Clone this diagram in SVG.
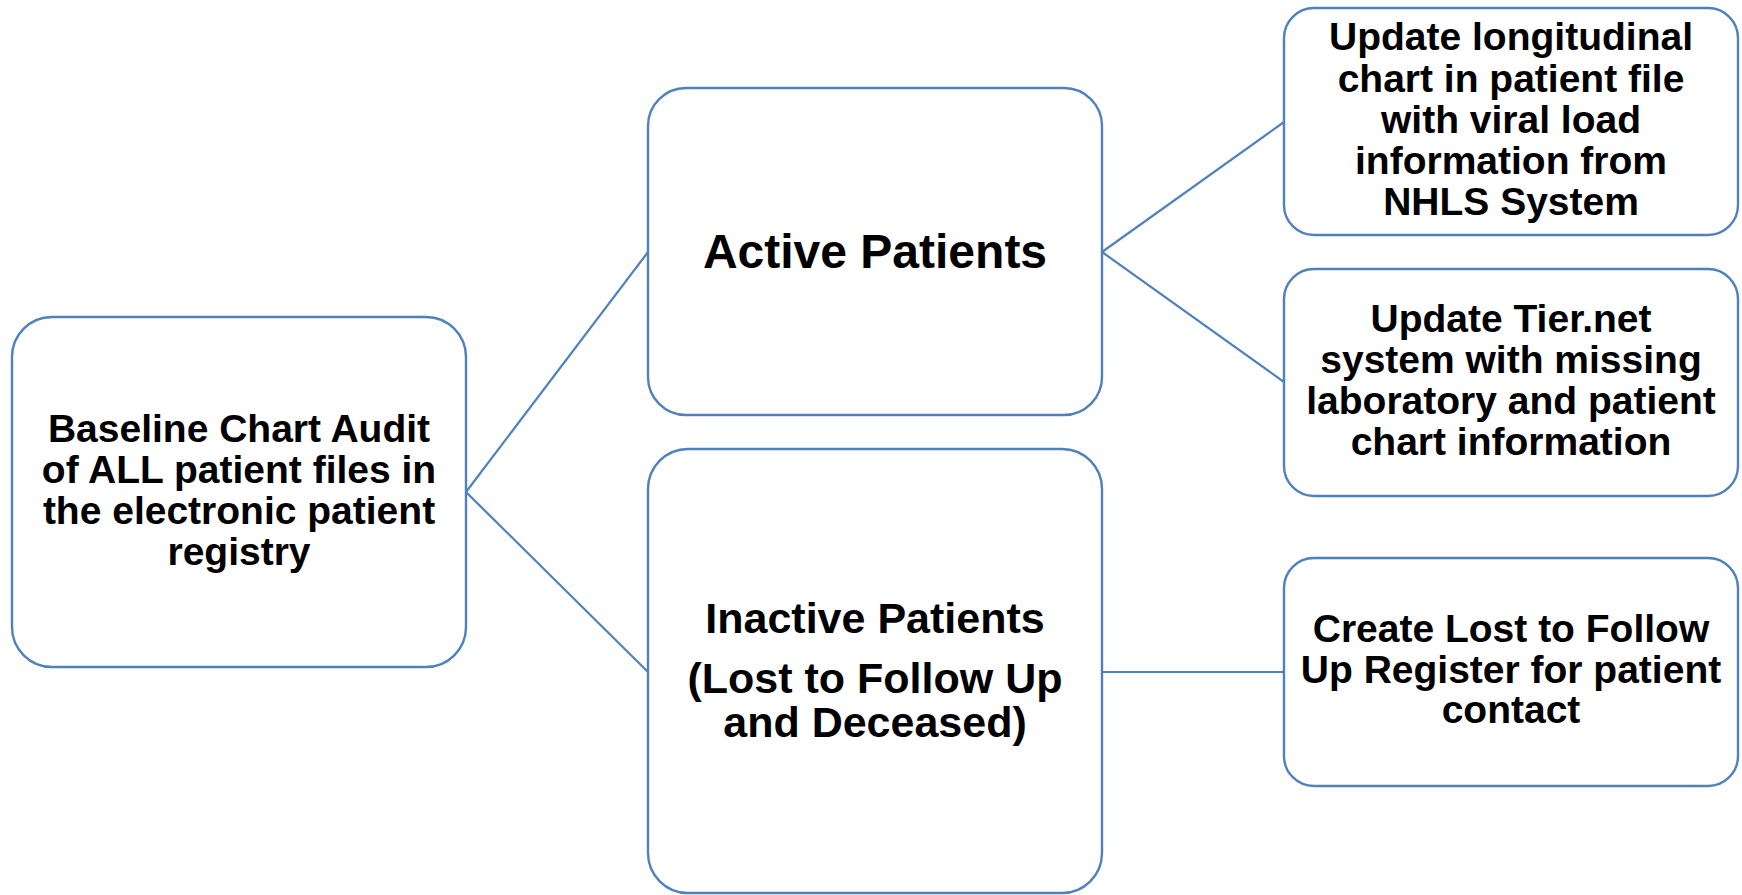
<svg xmlns="http://www.w3.org/2000/svg" width="1742" height="895" viewBox="0 0 1742 895">
<style>
.box{fill:#FFFFFF;stroke:#4F81BD;stroke-width:2.4}
.con{fill:none;stroke:#4F81BD;stroke-width:2.2}
text{font-family:"Liberation Sans",Arial,sans-serif;font-weight:bold;fill:#000000;text-anchor:middle}
.s{font-size:39px}
.m{font-size:43px}
.l{font-size:48px}
</style>
<rect width="1742" height="895" fill="#FFFFFF"/>
<g id="connectors">
<line class="con" x1="466" y1="492" x2="648" y2="252"/>
<line class="con" x1="466" y1="492" x2="648" y2="672"/>
<line class="con" x1="1102" y1="252" x2="1284" y2="122"/>
<line class="con" x1="1102" y1="252" x2="1284" y2="382"/>
<line class="con" x1="1102" y1="672" x2="1284" y2="672"/>
</g>
<g id="baseline">
<rect class="box" x="12" y="317" width="454" height="350" rx="40" ry="40"/>
<text class="s" x="239" y="442">Baseline Chart Audit</text>
<text class="s" x="239" y="483">of ALL patient files in</text>
<text class="s" x="239" y="524">the electronic patient</text>
<text class="s" x="239" y="565">registry</text>
</g>
<g id="active">
<rect class="box" x="648" y="88" width="454" height="327" rx="38" ry="38"/>
<text class="l" x="875" y="268">Active Patients</text>
</g>
<g id="inactive">
<rect class="box" x="648" y="449" width="454" height="444" rx="40" ry="40"/>
<text class="m" x="875" y="633">Inactive Patients</text>
<text class="m" x="875" y="693">(Lost to Follow Up</text>
<text class="m" x="875" y="737">and Deceased)</text>
</g>
<g id="longitudinal">
<rect class="box" x="1284" y="8" width="454" height="227" rx="30" ry="30"/>
<text class="s" x="1511" y="50">Update longitudinal</text>
<text class="s" x="1511" y="92">chart in patient file</text>
<text class="s" x="1511" y="133">with viral load</text>
<text class="s" x="1511" y="174">information from</text>
<text class="s" x="1511" y="215">NHLS System</text>
</g>
<g id="tiernet">
<rect class="box" x="1284" y="269" width="454" height="227" rx="30" ry="30"/>
<text class="s" x="1511" y="332">Update Tier.net</text>
<text class="s" x="1511" y="373">system with missing</text>
<text class="s" x="1511" y="414">laboratory and patient</text>
<text class="s" x="1511" y="455">chart information</text>
</g>
<g id="ltfu">
<rect class="box" x="1284" y="558" width="454" height="228" rx="30" ry="30"/>
<text class="s" x="1511" y="642">Create Lost to Follow</text>
<text class="s" x="1511" y="683">Up Register for patient</text>
<text class="s" x="1511" y="723">contact</text>
</g>
</svg>
